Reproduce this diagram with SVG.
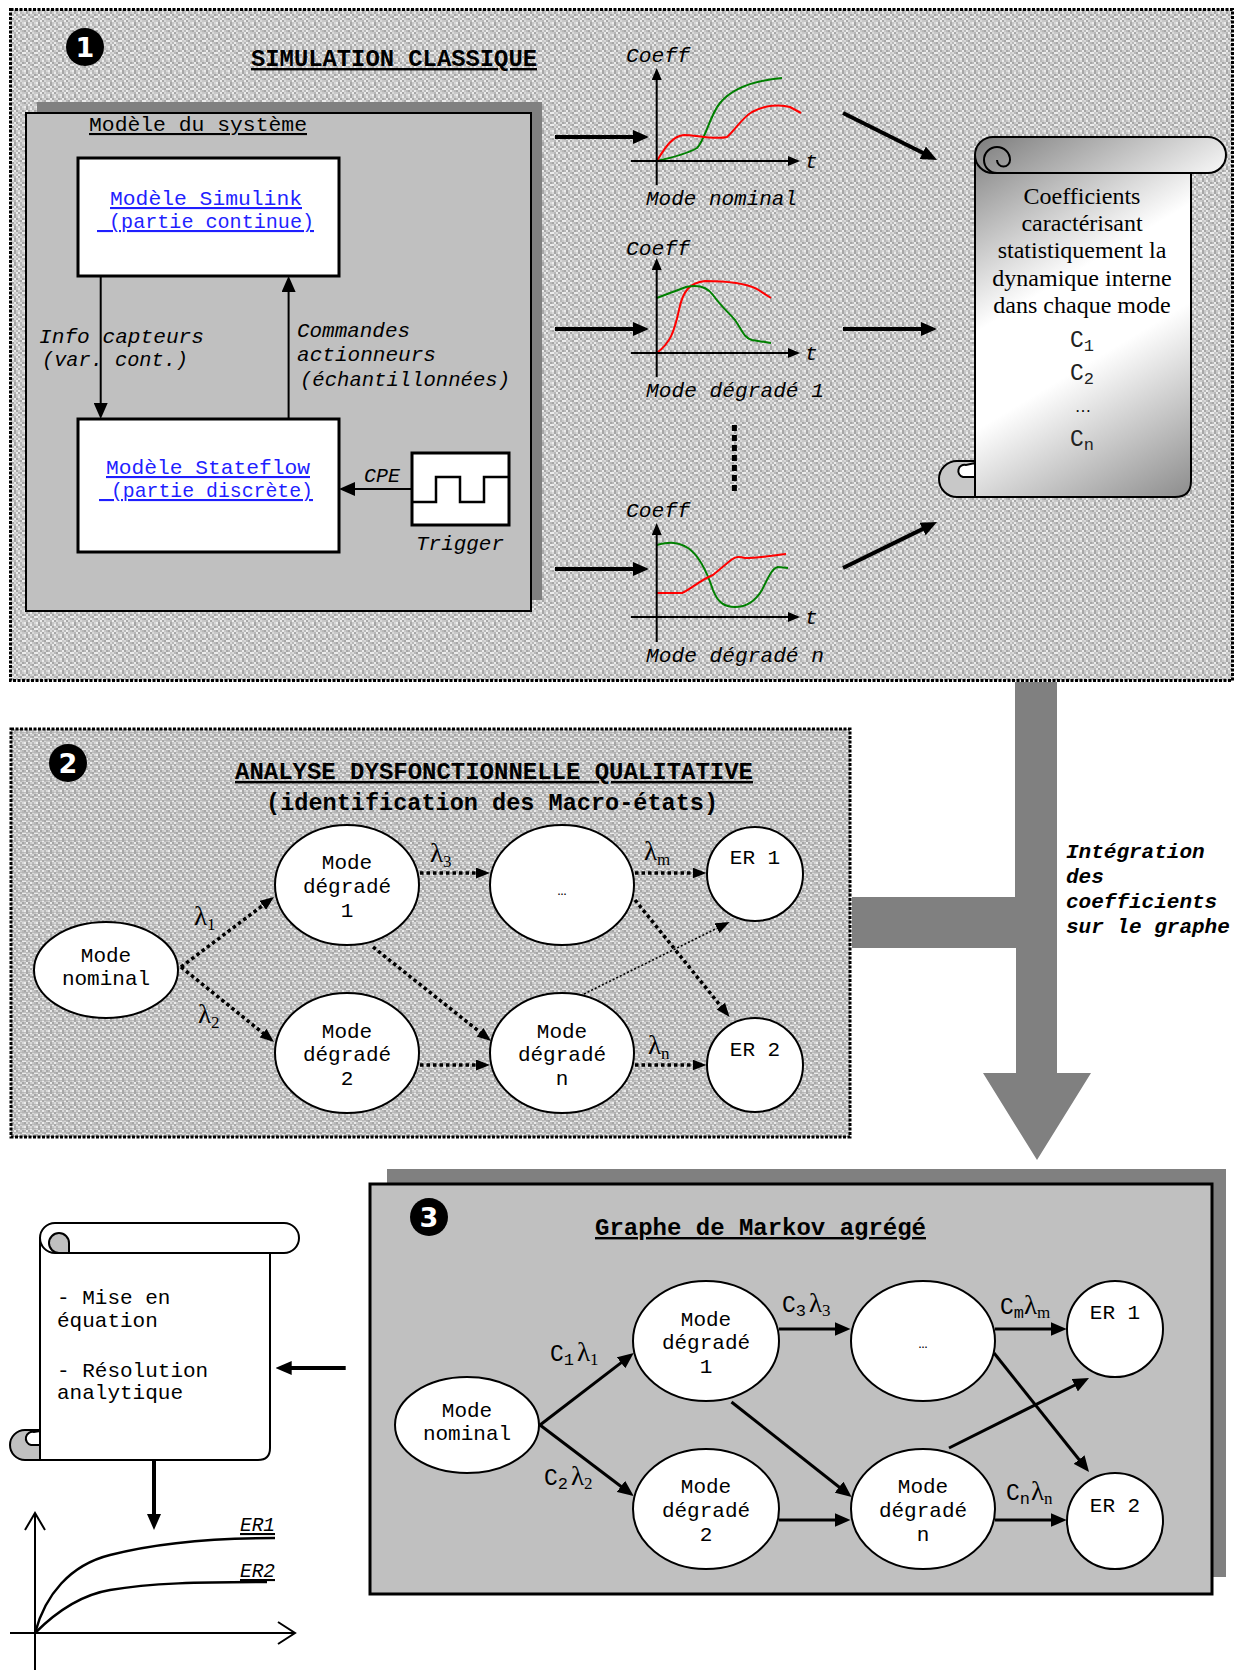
<svg xmlns="http://www.w3.org/2000/svg" width="1236" height="1673" viewBox="0 0 1236 1673">
<defs>
<pattern id="tex1" width="12" height="12" patternUnits="userSpaceOnUse">
<rect width="12" height="12" fill="#c8c8c8"/>
<rect x="0" y="0" width="2" height="2" fill="#d8d8d8"/><rect x="2" y="0" width="2" height="2" fill="#a6a6a6"/><rect x="6" y="0" width="2" height="2" fill="#ececec"/><rect x="8" y="0" width="2" height="2" fill="#b8b8b8"/>
<rect x="0" y="2" width="2" height="2" fill="#b8b8b8"/><rect x="2" y="2" width="2" height="2" fill="#ececec"/><rect x="4" y="2" width="2" height="2" fill="#a6a6a6"/><rect x="8" y="2" width="2" height="2" fill="#d8d8d8"/><rect x="10" y="2" width="2" height="2" fill="#a6a6a6"/>
<rect x="0" y="4" width="2" height="2" fill="#ececec"/><rect x="4" y="4" width="2" height="2" fill="#d8d8d8"/><rect x="6" y="4" width="2" height="2" fill="#b8b8b8"/><rect x="8" y="4" width="2" height="2" fill="#a6a6a6"/><rect x="10" y="4" width="2" height="2" fill="#ececec"/>
<rect x="0" y="6" width="2" height="2" fill="#a6a6a6"/><rect x="2" y="6" width="2" height="2" fill="#d8d8d8"/><rect x="4" y="6" width="2" height="2" fill="#b8b8b8"/><rect x="6" y="6" width="2" height="2" fill="#ececec"/><rect x="10" y="6" width="2" height="2" fill="#b8b8b8"/>
<rect x="2" y="8" width="2" height="2" fill="#b8b8b8"/><rect x="4" y="8" width="2" height="2" fill="#ececec"/><rect x="6" y="8" width="2" height="2" fill="#a6a6a6"/><rect x="8" y="8" width="2" height="2" fill="#d8d8d8"/>
<rect x="0" y="10" width="2" height="2" fill="#ececec"/><rect x="2" y="10" width="2" height="2" fill="#a6a6a6"/><rect x="6" y="10" width="2" height="2" fill="#d8d8d8"/><rect x="8" y="10" width="2" height="2" fill="#b8b8b8"/><rect x="10" y="10" width="2" height="2" fill="#d8d8d8"/>
</pattern>
<pattern id="tex2" width="12" height="12" patternUnits="userSpaceOnUse">
<rect width="12" height="12" fill="url(#tex1)"/>
<rect x="0" y="0" width="12" height="1" fill="#a8a8a8" opacity="0.55"/>
<rect x="0" y="4" width="12" height="1" fill="#a8a8a8" opacity="0.55"/>
<rect x="0" y="8" width="12" height="1" fill="#a8a8a8" opacity="0.55"/>
</pattern>
<linearGradient id="scrollGrad" gradientUnits="userSpaceOnUse" x1="975" y1="137" x2="1191" y2="497">
<stop offset="0" stop-color="#7c7c7c"/>
<stop offset="0.4" stop-color="#ffffff"/>
<stop offset="0.6" stop-color="#ffffff"/>
<stop offset="1" stop-color="#8c8c8c"/>
</linearGradient>
<marker id="ah" viewBox="0 0 16 14" refX="6" refY="7" markerWidth="16" markerHeight="14" markerUnits="userSpaceOnUse" orient="auto"><path d="M0,0 L16,7 L0,14 z" fill="#000"/></marker>
<marker id="ad" viewBox="0 0 14 11" refX="5" refY="5.5" markerWidth="14" markerHeight="11" markerUnits="userSpaceOnUse" orient="auto"><path d="M0,0 L14,5.5 L0,11 z" fill="#000"/></marker>
<marker id="as" viewBox="0 0 12 10" refX="5" refY="5" markerWidth="12" markerHeight="10" markerUnits="userSpaceOnUse" orient="auto"><path d="M0,0 L12,5 L0,10 z" fill="#000"/></marker>
</defs>
<style>
.m{font-family:"Liberation Mono","Courier New",monospace;font-size:21px;fill:#000}
.it{font-style:italic}
.bi{font-style:italic;font-weight:bold}
.title{font-family:"Liberation Mono","Courier New",monospace;font-size:24px;font-weight:bold;fill:#000}
.ul{text-decoration:underline}
.link{fill:#1f1fff;text-decoration:underline}
.node{fill:#fff;stroke:#000;stroke-width:2}
.nt{font-family:"Liberation Mono","Courier New",monospace;font-size:21px;text-anchor:middle;fill:#000}
.serif{font-family:"Liberation Serif","Times New Roman",serif;font-size:24px;text-anchor:middle;fill:#000}
.lam{font-family:"Liberation Serif","Times New Roman",serif;font-size:27px;fill:#000}
.cm{font-family:"Liberation Mono","Courier New",monospace;font-size:23px}
.sub{font-size:17px}
.thick{stroke:#000;stroke-width:4;fill:none;marker-end:url(#ah)}
.thin{stroke:#000;stroke-width:2;fill:none;marker-end:url(#ah)}
.dot{stroke:#000;stroke-width:3.5;stroke-dasharray:3.5 3;fill:none;marker-end:url(#ad)}
.dotthin{stroke:#000;stroke-width:1.6;stroke-dasharray:2 2;fill:none;marker-end:url(#ad)}
.sol{stroke:#000;stroke-width:3;fill:none;marker-end:url(#ah)}
.axis{stroke:#000;stroke-width:2;fill:none;marker-end:url(#as)}
.g{stroke:#008000;stroke-width:2;fill:none}
.r{stroke:#ff0000;stroke-width:2;fill:none}
.num{font-family:"DejaVu Sans",sans-serif;font-size:27px;font-weight:bold;fill:#fff;text-anchor:middle}
.box{fill:#fff;stroke:#000;stroke-width:3}
.sc{stroke:#000;stroke-width:2}
</style>

<!-- PANEL 1 -->
<g id="panel1">
<rect x="10.5" y="9.5" width="1222" height="671" fill="url(#tex1)" stroke="#000" stroke-width="3" stroke-dasharray="3 1.5"/>
<circle cx="85" cy="47" r="19" fill="#000"/>
<text class="num" x="85" y="57">1</text>
<text class="title ul" x="251" y="66" textLength="286" lengthAdjust="spacingAndGlyphs">SIMULATION CLASSIQUE</text>
</g>

<g id="system-model">
<rect x="37" y="102" width="505" height="498" fill="#808080"/>
<rect x="26" y="113" width="505" height="498" fill="#c0c0c0" stroke="#000" stroke-width="2"/>
<text class="m ul" x="89" y="131" textLength="218" lengthAdjust="spacingAndGlyphs">Modèle du système</text>
</g>

<g id="simulink">
<rect class="box" x="78" y="158" width="261" height="118"/>
<text class="m link" x="110" y="205" textLength="192" lengthAdjust="spacingAndGlyphs">Modèle Simulink</text>
<text class="m link" x="97" y="228" xml:space="preserve" textLength="217" lengthAdjust="spacingAndGlyphs"> (partie continue)</text>
</g>

<g id="stateflow">
<rect class="box" x="78" y="419" width="261" height="133"/>
<text class="m link" x="106" y="474" textLength="204" lengthAdjust="spacingAndGlyphs">Modèle Stateflow</text>
<text class="m link" x="99" y="497" xml:space="preserve" textLength="214" lengthAdjust="spacingAndGlyphs"> (partie discrète)</text>
</g>

<g id="trigger">
<rect class="box" x="412" y="453" width="97" height="72"/>
<path d="M412,502 H436 V477 H460 V502 H484 V477 H509" fill="none" stroke="#000" stroke-width="2.5"/>
<text class="m it" x="416" y="550" textLength="88" lengthAdjust="spacingAndGlyphs">Trigger</text>
</g>

<g id="labels1">
<text class="m it" x="39" y="343" textLength="165" lengthAdjust="spacingAndGlyphs">Info capteurs</text>
<text class="m it" x="42" y="366" textLength="146" lengthAdjust="spacingAndGlyphs">(var. cont.)</text>
<text class="m it" x="297" y="337" textLength="113" lengthAdjust="spacingAndGlyphs">Commandes</text>
<text class="m it" x="297" y="361" textLength="139" lengthAdjust="spacingAndGlyphs">actionneurs</text>
<text class="m it" x="300" y="386" textLength="210" lengthAdjust="spacingAndGlyphs">(échantillonnées)</text>
<text class="m it" x="364" y="482" textLength="36" lengthAdjust="spacingAndGlyphs">CPE</text>
</g>

<g id="graph-nominal">
<path class="g" d="M656.7,161 C675,157 690,152 697,148 C705,140 710,115 720,103 C735,85 760,80 782,78"/>
<path class="r" d="M656.7,161 C665,148 672,136 684,135 C695,135 715,140 727,137 C735,130 742,118 752,112 C765,105 780,104 790,107 L801,113"/>
<line class="axis" x1="656.7" y1="185" x2="656.7" y2="75"/>
<line class="axis" x1="631" y1="161" x2="793" y2="161"/>
<text class="m it" x="626" y="62" textLength="64" lengthAdjust="spacingAndGlyphs">Coeff</text>
<text class="m it" x="805" y="168">t</text>
<text class="m it" x="646" y="205" textLength="151" lengthAdjust="spacingAndGlyphs">Mode nominal</text>
</g>

<g id="graph-degrade1">
<path class="r" d="M656.7,353 C670,343 674,333 679,310 C683,290 690,283 705,281 C725,281 745,283 757,289 L771,298"/>
<path class="g" d="M656.7,298 L686,287 C700,284 708,288 713,295 C720,305 728,312 735,320 C742,330 744,338 752,340 L771,343"/>
<line class="axis" x1="656.7" y1="377" x2="656.7" y2="265"/>
<line class="axis" x1="631" y1="353" x2="793" y2="353"/>
<text class="m it" x="626" y="255" textLength="64" lengthAdjust="spacingAndGlyphs">Coeff</text>
<text class="m it" x="805" y="360">t</text>
<text class="m it" x="646" y="397" textLength="178" lengthAdjust="spacingAndGlyphs">Mode dégradé 1</text>
</g>

<g id="graph-degraden">
<path class="g" d="M656.7,545 C665,543 675,540 688,548 C700,556 708,575 713,590 C718,603 725,607 735,607 C748,607 756,600 762,590 C768,578 772,568 778,567 L788,568"/>
<path class="r" d="M656.7,593 L682,593 C690,590 700,580 713,575 L731,560 C735,557 738,556 745,558 C760,558 775,555 786,554"/>
<line class="axis" x1="656.7" y1="642" x2="656.7" y2="530"/>
<line class="axis" x1="631" y1="617" x2="793" y2="617"/>
<text class="m it" x="626" y="517" textLength="64" lengthAdjust="spacingAndGlyphs">Coeff</text>
<text class="m it" x="805" y="624">t</text>
<text class="m it" x="646" y="662" textLength="178" lengthAdjust="spacingAndGlyphs">Mode dégradé n</text>
</g>

<g id="coeff-scroll">
<path d="M975,155 V497 H1175 Q1191,497 1191,481 V160 Z" fill="url(#scrollGrad)" class="sc"/>
<path d="M993,137 H1208 A18,18 0 0 1 1208,173 H993 A18,18 0 0 1 993,137 Z" fill="url(#scrollGrad)" class="sc"/>
<path d="M997,173 A13,13 0 1 1 1010,160 A6.5,6.5 0 0 1 997,160" fill="none" class="sc"/>
<path d="M975,461 H957 A18,18 0 0 0 957,497 H975 Z" fill="#c8c8c8" class="sc"/>
<path d="M975,477 H963 A6,6 0 0 1 966,465 L975,463 Z" fill="#ffffff" class="sc"/>
<text class="serif" x="1082" y="204">Coefficients</text>
<text class="serif" x="1082" y="231">caractérisant</text>
<text class="serif" x="1082" y="258">statistiquement la</text>
<text class="serif" x="1082" y="286">dynamique interne</text>
<text class="serif" x="1082" y="313">dans chaque mode</text>
<text class="cm" x="1070" y="347" fill="#222">C<tspan class="sub" dy="4">1</tspan></text>
<text class="cm" x="1070" y="380" fill="#222">C<tspan class="sub" dy="4">2</tspan></text>
<text class="serif" x="1083" y="412" style="font-size:16px">…</text>
<text class="cm" x="1070" y="446" fill="#222">C<tspan class="sub" dy="4">n</tspan></text>
</g>

<g id="connectors1">
<line class="thin" x1="100.7" y1="276" x2="100.7" y2="409"/>
<line class="thin" x1="288.6" y1="419" x2="288.6" y2="286"/>
<line class="thin" x1="412" y1="489" x2="349" y2="489"/>
<line class="thick" x1="555" y1="137" x2="639" y2="137"/>
<line class="thick" x1="555" y1="329" x2="639" y2="329"/>
<line class="thick" x1="555" y1="569" x2="639" y2="569"/>
<line class="thick" x1="843" y1="113" x2="928.1" y2="155.5"/>
<line class="thick" x1="843" y1="329" x2="927" y2="329"/>
<line class="thick" x1="843" y1="568" x2="928" y2="526.4"/>
<line x1="734.4" y1="425" x2="734.4" y2="493" stroke="#000" stroke-width="5" stroke-dasharray="6 4"/>
</g>

<!-- PANEL 2 -->
<g id="panel2">
<rect x="11" y="729" width="839" height="408" fill="url(#tex2)" stroke="#000" stroke-width="3" stroke-dasharray="3 1.5"/>
<circle cx="68" cy="763" r="19" fill="#000"/>
<text class="num" x="68" y="773">2</text>
<text class="title ul" x="235" y="779" textLength="518" lengthAdjust="spacingAndGlyphs">ANALYSE DYSFONCTIONNELLE QUALITATIVE</text>
<text class="title" x="266" y="810" textLength="452" lengthAdjust="spacingAndGlyphs">(identification des Macro-états)</text>
</g>

<g id="p2-nominal"><ellipse class="node" cx="106" cy="970" rx="72" ry="48"/><text class="nt" x="106" y="962">Mode</text><text class="nt" x="106" y="985">nominal</text></g>
<g id="p2-md1"><ellipse class="node" cx="347" cy="885" rx="72" ry="60"/><text class="nt" x="347" y="869">Mode</text><text class="nt" x="347" y="893">dégradé</text><text class="nt" x="347" y="917">1</text></g>
<g id="p2-dots"><ellipse class="node" cx="562" cy="885" rx="72" ry="60"/><text class="nt" x="562" y="895" style="font-size:15px">…</text></g>
<g id="p2-er1"><ellipse class="node" cx="755" cy="874" rx="48" ry="47"/><text class="nt" x="755" y="864">ER 1</text></g>
<g id="p2-md2"><ellipse class="node" cx="347" cy="1053" rx="72" ry="60"/><text class="nt" x="347" y="1038">Mode</text><text class="nt" x="347" y="1061">dégradé</text><text class="nt" x="347" y="1085">2</text></g>
<g id="p2-mdn"><ellipse class="node" cx="562" cy="1053" rx="72" ry="60"/><text class="nt" x="562" y="1038">Mode</text><text class="nt" x="562" y="1061">dégradé</text><text class="nt" x="562" y="1085">n</text></g>
<g id="p2-er2"><ellipse class="node" cx="755" cy="1065" rx="48" ry="47"/><text class="nt" x="755" y="1056">ER 2</text></g>

<g id="connectors2">
<line class="dot" x1="181" y1="967" x2="266.8" y2="902.4"/>
<line class="dot" x1="181" y1="967" x2="267" y2="1036.3"/>
<line class="dot" x1="420" y1="873" x2="481" y2="873"/>
<line class="dot" x1="635" y1="873" x2="697.5" y2="873"/>
<line class="dot" x1="420" y1="1065" x2="481" y2="1065"/>
<line class="dot" x1="635" y1="1065" x2="697.5" y2="1065"/>
<line class="dot" x1="373" y1="947" x2="484" y2="1035.4"/>
<line class="dot" x1="635" y1="900" x2="723.9" y2="1010"/>
<line class="dotthin" x1="584" y1="994" x2="721.5" y2="926"/>
<text class="lam" x="194" y="925">λ<tspan class="sub" dy="5">1</tspan></text>
<text class="lam" x="198" y="1023">λ<tspan class="sub" dy="5">2</tspan></text>
<text class="lam" x="430" y="862">λ<tspan class="sub" dy="5">3</tspan></text>
<text class="lam" x="644" y="860">λ<tspan class="sub" dy="5">m</tspan></text>
<text class="lam" x="648" y="1054">λ<tspan class="sub" dy="5">n</tspan></text>
</g>

<!-- BIG ARROW -->
<g id="integration-arrow">
<polygon points="1015,682 1057,682 1057,1073 1091,1073 1037,1160 983,1073 1016,1073 1016,948 852,948 852,897 1015,897" fill="#808080"/>
<text class="m bi" x="1066" y="858">Intégration</text>
<text class="m bi" x="1066" y="883">des</text>
<text class="m bi" x="1066" y="908">coefficients</text>
<text class="m bi" x="1066" y="933">sur le graphe</text>
</g>

<!-- PANEL 3 -->
<g id="panel3">
<rect x="387" y="1169" width="839" height="408" fill="#808080"/>
<rect x="370" y="1184" width="842" height="410" fill="#c0c0c0" stroke="#000" stroke-width="3"/>
<circle cx="429" cy="1217" r="19" fill="#000"/>
<text class="num" x="429" y="1227">3</text>
<text class="title ul" x="595" y="1235" textLength="331" lengthAdjust="spacingAndGlyphs">Graphe de Markov agrégé</text>
</g>

<g id="p3-nominal"><ellipse class="node" cx="467" cy="1425" rx="72" ry="48"/><text class="nt" x="467" y="1417">Mode</text><text class="nt" x="467" y="1440">nominal</text></g>
<g id="p3-md1"><ellipse class="node" cx="706" cy="1341" rx="73" ry="60"/><text class="nt" x="706" y="1326">Mode</text><text class="nt" x="706" y="1349">dégradé</text><text class="nt" x="706" y="1373">1</text></g>
<g id="p3-dots"><ellipse class="node" cx="923" cy="1341" rx="72" ry="60"/><text class="nt" x="923" y="1348" style="font-size:15px">…</text></g>
<g id="p3-er1"><ellipse class="node" cx="1115" cy="1329" rx="48" ry="48"/><text class="nt" x="1115" y="1319">ER 1</text></g>
<g id="p3-md2"><ellipse class="node" cx="706" cy="1509" rx="73" ry="60"/><text class="nt" x="706" y="1493">Mode</text><text class="nt" x="706" y="1517">dégradé</text><text class="nt" x="706" y="1541">2</text></g>
<g id="p3-mdn"><ellipse class="node" cx="923" cy="1509" rx="72" ry="60"/><text class="nt" x="923" y="1493">Mode</text><text class="nt" x="923" y="1517">dégradé</text><text class="nt" x="923" y="1541">n</text></g>
<g id="p3-er2"><ellipse class="node" cx="1115" cy="1521" rx="48" ry="48"/><text class="nt" x="1115" y="1512">ER 2</text></g>

<g id="connectors3">
<line class="sol" x1="540" y1="1425" x2="625.8" y2="1359.1"/>
<line class="sol" x1="540" y1="1425" x2="625.7" y2="1490"/>
<line class="sol" x1="779" y1="1329" x2="840.5" y2="1329"/>
<line class="sol" x1="995" y1="1329" x2="1056.7" y2="1329"/>
<line class="sol" x1="779" y1="1520" x2="840.5" y2="1520"/>
<line class="sol" x1="995" y1="1520" x2="1056.7" y2="1520"/>
<line class="sol" x1="731.5" y1="1402" x2="843.8" y2="1490.8"/>
<line class="sol" x1="994" y1="1353" x2="1082.8" y2="1464.2"/>
<line class="sol" x1="949" y1="1448" x2="1080.1" y2="1382.5"/>
<text class="lam" x="550" y="1361"><tspan class="cm">C</tspan><tspan class="cm sub" dy="4">1</tspan><tspan dx="3" dy="-4">λ</tspan><tspan class="sub" dy="4">1</tspan></text>
<text class="lam" x="544" y="1485"><tspan class="cm">C</tspan><tspan class="cm sub" dy="4">2</tspan><tspan dx="3" dy="-4">λ</tspan><tspan class="sub" dy="4">2</tspan></text>
<text class="lam" x="782" y="1312"><tspan class="cm">C</tspan><tspan class="cm sub" dy="4">3</tspan><tspan dx="3" dy="-4">λ</tspan><tspan class="sub" dy="4">3</tspan></text>
<text class="lam" x="1000" y="1314"><tspan class="cm">C</tspan><tspan class="cm sub" dy="4">m</tspan><tspan dx="0" dy="-4">λ</tspan><tspan class="sub" dy="4">m</tspan></text>
<text class="lam" x="1006" y="1500"><tspan class="cm">C</tspan><tspan class="cm sub" dy="4">n</tspan><tspan dx="1" dy="-4">λ</tspan><tspan class="sub" dy="4">n</tspan></text>
</g>

<!-- LEFT SCROLL -->
<g id="resolution-scroll">
<path d="M40,1238 V1460 H258 Q270,1460 270,1448 V1253 Z" fill="#fff" class="sc"/>
<path d="M55,1223 H284 A15,15 0 0 1 284,1253 H55 A15,15 0 0 1 55,1223 Z" fill="#fff" class="sc"/>
<path d="M59,1253 A10,10 0 1 1 69,1243 L69,1253 Z" fill="#c0c0c0" class="sc"/>
<path d="M40,1430 H25 A15,15 0 0 0 25,1460 H40 Z" fill="#c0c0c0" class="sc"/>
<path d="M40,1445 H31 A6.5,6.5 0 0 1 34,1432 L40,1431 Z" fill="#fff" class="sc"/>
<text class="m" x="57" y="1304" xml:space="preserve">- Mise en</text>
<text class="m" x="57" y="1327">équation</text>
<text class="m" x="57" y="1377" xml:space="preserve">- Résolution</text>
<text class="m" x="57" y="1399">analytique</text>
</g>

<g id="result-graph">
<path d="M35,1670 V1513 M25,1530 L35,1513 L45,1530" fill="none" stroke="#000" stroke-width="2"/>
<path d="M10,1633 H295 M278,1622 L295,1633 L278,1644" fill="none" stroke="#000" stroke-width="2"/>
<path d="M35,1633 C45,1595 70,1565 110,1555 C160,1542 220,1538 275,1538" fill="none" stroke="#000" stroke-width="2.5"/>
<path d="M35,1633 C55,1613 80,1595 110,1590 C150,1583 200,1582 267,1582" fill="none" stroke="#000" stroke-width="2.5"/>
<text class="m it ul" x="240" y="1531" textLength="35" lengthAdjust="spacingAndGlyphs">ER1</text>
<text class="m it ul" x="240" y="1577" textLength="35" lengthAdjust="spacingAndGlyphs">ER2</text>
</g>

<g id="connectors-left">
<line class="thick" x1="345.7" y1="1368" x2="285.7" y2="1368"/>
<line class="thick" x1="154" y1="1460" x2="154" y2="1520"/>
</g>
</svg>
